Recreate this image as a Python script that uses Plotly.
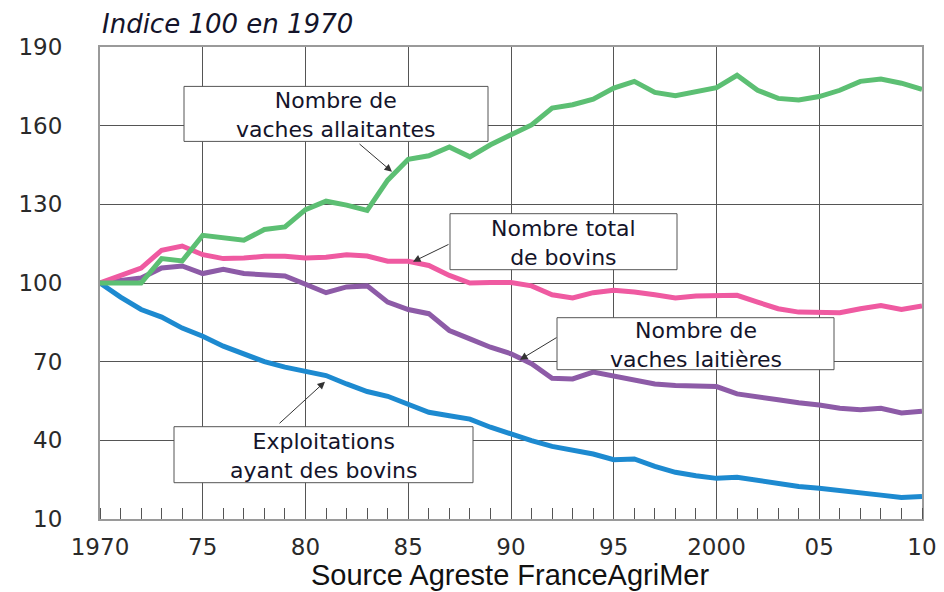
import plotly.graph_objects as go

years = list(range(1970, 2011))

vaches_allaitantes = [100, 100, 100, 109.3, 108.4, 118.2, 117.2, 116.3, 120.4, 121.4,
                      128.0, 131.2, 129.7, 127.7, 139.2, 147.2, 148.5, 151.9, 148.1, 152.7,
                      156.5, 160.3, 166.7, 168.0, 170.1, 174.3, 176.9, 172.7, 171.4, 173.1,
                      174.5, 179.2, 173.5, 170.4, 169.8, 171.1, 173.5, 176.9, 177.8, 176.2,
                      173.8]
total_bovins = [100, 102.9, 105.7, 112.5, 114.1, 110.8, 109.3, 109.5, 110.2, 110.2,
                109.5, 109.8, 110.8, 110.3, 108.3, 108.3, 106.7, 102.9, 100.0, 100.2,
                100.2, 98.9, 95.5, 94.3, 96.3, 97.2, 96.6, 95.5, 94.3, 95.0,
                95.3, 95.3, 92.7, 90.2, 88.9, 88.7, 88.7, 90.2, 91.4, 89.9,
                91.2]
vaches_laitieres = [100, 101.0, 101.9, 105.7, 106.5, 103.6, 105.2, 103.6, 103.2, 102.7,
                    99.5, 96.3, 98.5, 98.9, 92.7, 89.9, 88.3, 81.9, 78.7, 75.5,
                    73.0, 69.2, 63.7, 63.4, 66.0, 64.5, 62.8, 61.5, 60.9, 60.7,
                    60.5, 57.7, 56.8, 55.5, 54.3, 53.5, 52.2, 51.7, 52.2, 50.4,
                    51.1]
exploitations = [100, 94.6, 89.9, 87.0, 82.8, 79.7, 75.9, 73.0, 70.0, 67.9,
                 66.5, 64.7, 61.5, 58.6, 56.8, 53.9, 50.7, 49.4, 48.1, 45.0,
                 42.3, 39.9, 37.7, 36.4, 34.8, 32.6, 32.9, 30.1, 27.8, 26.5,
                 25.5, 25.9, 24.6, 23.3, 22.4, 21.7, 20.7, 20.1, 19.1, 18.2,
                 18.6]

x_tickvals = [1970, 1975, 1980, 1985, 1990, 1995, 2000, 2005, 2010]
x_ticktext = ["1970", "75", "80", "85", "90", "95", "2000", "05", "10"]
y_tickvals = [10, 40, 70, 100, 130, 160, 190]

series = [
    ("Exploitations ayant des bovins", exploitations, "#1d8ad0"),
    ("Nombre de vaches laitières", vaches_laitieres, "#8d5ba7"),
    ("Nombre total de bovins", total_bovins, "#ef5aa1"),
    ("Nombre de vaches allaitantes", vaches_allaitantes, "#5cbf73"),
]

# Layout geometry (page pixels of the plotting area in the target picture)
X0, X1, Y0, Y1 = 1970, 2010, 10, 190
PL, PR, PT, PB = 100, 922, 47.3, 519.3


def dx(px):
    return X0 + (px - PL) * (X1 - X0) / (PR - PL)


def dy(py):
    return Y1 - (py - PT) * (Y1 - Y0) / (PB - PT)


fig = go.Figure()
for name, vals, col in series:
    fig.add_trace(go.Scatter(x=years, y=vals, mode="lines", name=name,
                             line=dict(color=col, width=5), hoverinfo="x+y"))

LABEL_FONT = dict(family="DejaVu Sans", size=22, color="#14142a")
TICK_FONT = dict(family="DejaVu Sans", size=23, color="#2a2a2a")

# page body has an 8px margin: figure is 936x584 placed at (8, 8)
fig.update_layout(
    width=936, height=584,
    margin=dict(l=92, r=22, t=39, b=73, autoexpand=False),
    paper_bgcolor="white", plot_bgcolor="white",
    showlegend=False,
    xaxis=dict(range=[X0, X1], tickmode="array", tickvals=x_tickvals, ticktext=x_ticktext,
               showgrid=True, gridcolor="#555555", gridwidth=1,
               showline=True, linecolor="#9a9a9a", linewidth=2, mirror=True,
               ticks="outside", ticklen=6, tickcolor="rgba(0,0,0,0)",
               tickfont=TICK_FONT, zeroline=False,
               minor=dict(tickvals=years, ticks="inside", ticklen=11, tickcolor="#555555",
                          tickwidth=1, showgrid=False)),
    yaxis=dict(range=[Y0, Y1], tickmode="array", tickvals=y_tickvals,
               showgrid=True, gridcolor="#555555", gridwidth=1,
               showline=True, linecolor="#9a9a9a", linewidth=2, mirror=True,
               ticks="outside", ticklen=31, tickcolor="rgba(0,0,0,0)",
               tickfont=TICK_FONT, zeroline=False),
)

# label boxes: (text, box x0, x1, y0, y1 in page px)
boxes = [
    ("Nombre de<br>vaches allaitantes", 184, 488, 86.7, 141.7),
    ("Nombre total<br>de bovins", 450, 677, 214, 270),
    ("Nombre de<br>vaches laitières", 557, 834, 318, 370),
    ("Exploitations<br>ayant des bovins", 174, 473, 427, 483),
]
for txt, bx0, bx1, by0, by1 in boxes:
    fig.add_shape(type="rect", xref="x", yref="y", x0=dx(bx0), x1=dx(bx1),
                  y0=dy(by1), y1=dy(by0), fillcolor="white",
                  line=dict(color="#555555", width=1), layer="above")
    fig.add_annotation(x=dx((bx0 + bx1) / 2), y=dy((by0 + by1) / 2 + 1), xref="x", yref="y",
                       text=txt, showarrow=False, font=LABEL_FONT, xanchor="center",
                       yanchor="middle", align="center", borderpad=0)

# arrows: head (page px), tail offset (px)
arrows = [
    (392, 172, -34, -29),
    (413, 262, 37, -18),
    (520, 360, 38, -23),
    (325, 382, -47, 43),
]
for hx, hy, ax, ay in arrows:
    fig.add_annotation(x=dx(hx), y=dy(hy), xref="x", yref="y", ax=ax, ay=ay, text="",
                       showarrow=True, arrowhead=2, arrowsize=1.5, arrowwidth=1,
                       arrowcolor="#333333", standoff=0)

fig.add_annotation(xref="paper", yref="paper", x=0.0, y=1, xanchor="left", yanchor="bottom",
                   yshift=6, text="Indice 100 en 1970", showarrow=False,
                   font=dict(family="DejaVu Sans", size=26, color="#14142a", style="italic"))

fig.add_annotation(xref="paper", yref="paper", x=(510 - PL) / (PR - PL), y=0,
                   xanchor="center", yanchor="middle", yshift=-56,
                   text="Source Agreste FranceAgriMer", showarrow=False,
                   font=dict(family="Liberation Sans", size=29, color="#111111"))

fig.write_html("out.html")
